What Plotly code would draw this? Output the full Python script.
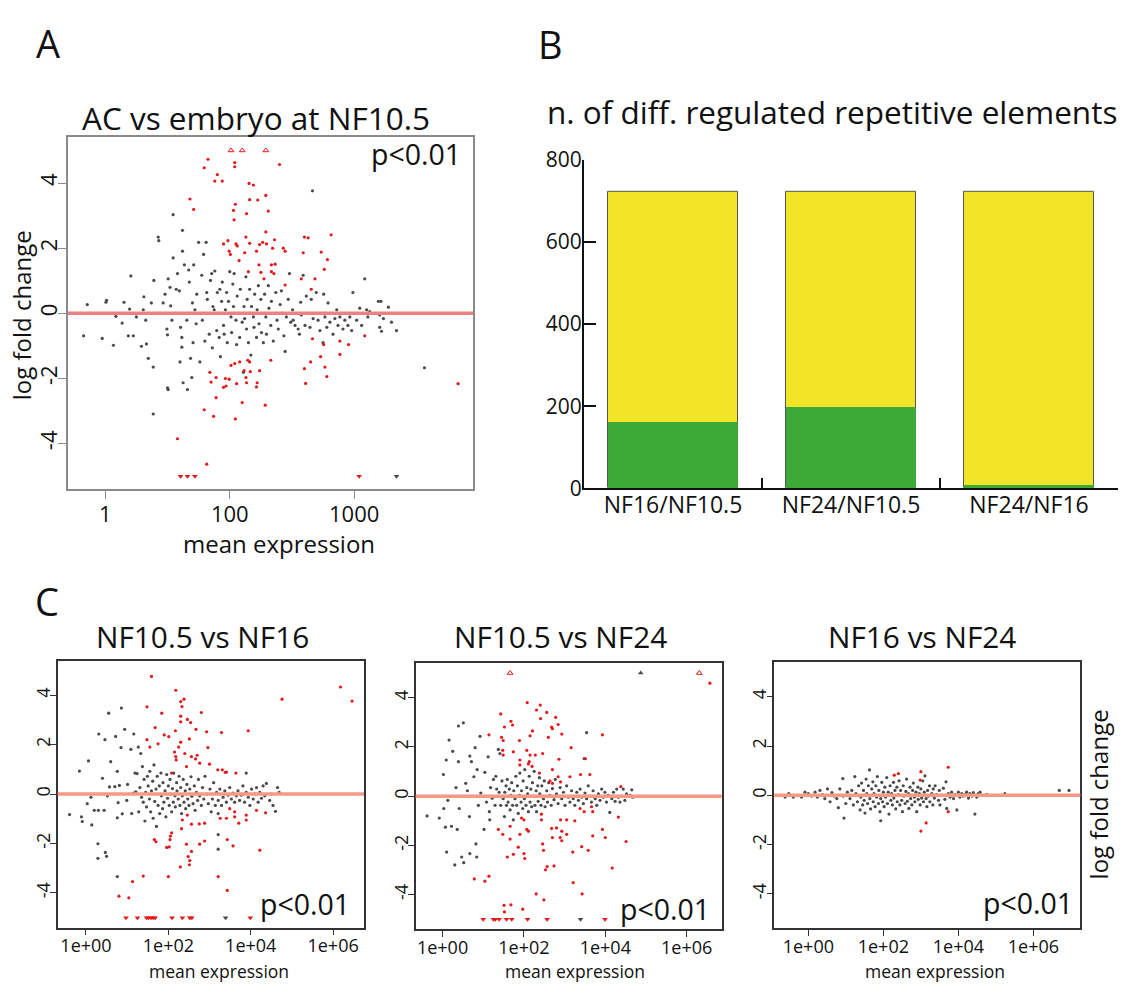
import plotly.graph_objects as go

W, H = 1123, 993
FONT = "Open Sans"

# ---------------- data ----------------
# MA-plot points: (log10 mean expression, log fold change)
a_grey = [(-0.35,-0.69),(-0.29,0.27),(-0.05,-0.77),(0.01,0.34),(0.02,0.40),(0.13,-0.98),(0.17,-0.09),(0.27,-0.30),(0.30,0.34),(0.37,-0.69),(0.39,0.13),(0.41,1.15),(0.45,-0.69),(0.50,-0.11),(0.58,-1.01),(0.61,0.11),(0.62,0.51),(0.65,-0.21),(0.66,-0.94),(0.69,-1.38),(0.74,0.32),(0.77,-1.65),(0.77,-3.09),(0.78,1.01),(0.85,2.34),(0.86,2.23),(0.93,0.32),(0.96,0.59),(0.99,-0.48),(1.00,-0.66),(1.01,1.06),(1.00,-2.29),(1.01,-2.34),(1.04,0.80),(1.05,0.23),(1.07,-0.21),(1.09,1.70),(1.09,3.03),(1.14,0.74),(1.16,1.22),(1.19,0.69),(1.20,-1.49),(1.21,-0.43),(1.23,-0.74),(1.24,2.55),(1.23,-1.04),(1.24,1.91),(1.25,0.0),(1.25,-2.13),(1.27,1.49),(1.31,-0.21),(1.32,-2.34),(1.34,1.33),(1.35,0.96),(1.37,-1.38),(1.39,-1.97),(1.40,0.32),(1.41,-0.90),(1.42,1.49),(1.44,0.11),(1.46,-0.32),(1.47,0.59),(1.50,2.18),(1.52,-1.49),(1.55,1.17),(1.56,-0.21),(1.58,1.81),(1.60,-0.85),(1.62,2.18),(1.63,0.64),(1.64,0.43),(1.67,-0.64),(1.69,1.01),(1.71,1.22),(1.72,-1.06),(1.73,0.21),(1.75,0.11),(1.76,1.30),(1.79,-0.53),(1.80,0.64),(1.82,0.0),(1.83,-0.74),(1.84,0.74),(1.85,-1.33),(1.87,0.37),(1.88,0.96),(1.90,-0.37),(1.91,-0.64),(1.93,0.11),(1.95,0.64),(1.96,-0.90),(1.98,0.37),(2.00,1.28),(2.02,-0.11),(2.03,-0.59),(2.05,0.90),(2.06,0.21),(2.07,1.22),(2.10,-0.21),(2.11,-0.96),(2.12,0.53),(2.15,0.0),(2.16,-0.74),(2.17,0.74),(2.20,-0.27),(2.22,-1.81),(2.23,0.21),(2.24,-0.16),(2.26,1.12),(2.27,-0.48),(2.28,0.43),(2.30,-0.90),(2.31,0.0),(2.32,0.74),(2.34,-1.28),(2.35,0.21),(2.38,-0.11),(2.39,-0.43),(2.40,0.59),(2.43,-0.74),(2.44,0.11),(2.46,0.85),(2.47,-0.32),(2.50,0.43),(2.51,-0.59),(2.54,-0.90),(2.55,0.0),(2.56,0.59),(2.58,-0.11),(2.59,-0.64),(2.62,0.85),(2.63,0.16),(2.66,-0.37),(2.67,0.37),(2.70,-0.85),(2.71,0.0),(2.74,0.64),(2.76,-0.21),(2.78,-0.48),(2.81,0.27),(2.83,0.69),(2.85,0.0),(2.87,-0.69),(2.89,-1.17),(2.91,-0.11),(2.94,0.43),(2.96,1.22),(2.98,-0.27),(3.01,0.11),(3.02,-0.21),(3.05,-0.37),(3.07,0.0),(3.10,-0.48),(3.12,-0.64),(3.14,0.34),(3.15,-0.05),(3.18,1.17),(3.21,-0.37),(3.23,0.53),(3.26,0.0),(3.29,-0.43),(3.31,0.43),(3.34,-0.16),(3.37,0.0),(3.39,0.64),(3.42,-0.21),(3.45,-0.53),(3.48,0.0),(3.50,-0.90),(3.51,0.59),(3.53,-0.11),(3.56,-0.43),(3.58,0.32),(3.61,-0.27),(3.64,0.0),(3.66,-0.64),(3.69,-0.16),(3.72,0.11),(3.74,-0.37),(3.77,-0.11),(3.80,0.0),(3.82,-0.48),(3.85,-0.21),(3.88,0.0),(3.90,-0.37),(3.93,-0.11),(3.96,-0.53),(3.98,0.64),(4.01,0.0),(4.04,-0.21),(4.09,0.16),(4.12,-0.37),(4.14,0.0),(4.17,1.06),(4.20,0.11),(4.22,-0.11),(4.25,0.05),(4.39,0.37),(4.41,-0.05),(4.43,0.37),(4.41,-0.43),(4.44,-0.55),(4.47,-0.16),(4.55,0.19),(4.60,-0.27),(4.68,-0.53),(3.33,3.76),(5.13,-1.67)]
a_red = [(1.65,4.73),(1.59,4.47),(2.08,4.63),(2.08,4.50),(2.80,4.57),(1.80,4.26),(1.76,4.06),(1.88,4.06),(2.31,3.99),(2.38,3.94),(1.36,3.51),(1.42,3.19),(2.32,3.49),(2.45,3.48),(2.58,3.62),(2.09,3.35),(2.06,3.16),(2.27,3.06),(2.62,3.14),(2.07,2.87),(2.58,2.50),(2.26,2.34),(3.20,2.34),(3.26,2.32),(3.63,2.41),(1.97,2.23),(1.90,2.13),(2.10,2.13),(2.12,2.07),(2.32,2.15),(2.48,2.11),(2.53,2.18),(2.72,2.26),(2.59,2.13),(2.01,1.81),(1.99,1.91),(2.24,1.86),(2.15,1.62),(2.43,1.91),(2.69,2.00),(2.86,2.00),(2.89,1.91),(3.18,1.86),(3.47,1.88),(3.57,1.65),(2.47,1.49),(2.67,1.49),(2.73,1.51),(2.30,1.28),(2.50,1.26),(2.67,1.28),(2.71,1.22),(2.55,1.06),(3.15,1.06),(3.52,1.35),(3.37,1.06),(2.89,0.87),(3.31,0.74),(3.33,-0.78),(3.51,-0.96),(4.17,-0.69),(3.77,-0.85),(3.91,-0.96),(3.77,-1.26),(3.46,-1.33),(3.30,-1.49),(3.20,-1.70),(3.53,-1.65),(3.56,-1.94),(3.22,-2.15),(2.02,-1.60),(2.08,-1.54),(2.16,-1.49),(2.29,-1.44),(2.32,-1.49),(2.23,-1.76),(2.33,-1.79),(2.48,-1.76),(2.66,-1.44),(1.68,-1.81),(1.70,-2.11),(1.78,-1.97),(1.93,-2.00),(1.99,-2.02),(1.94,-2.23),(1.90,-2.27),(2.11,-2.16),(2.26,-1.97),(2.27,-2.13),(2.44,-2.13),(2.43,-2.26),(1.78,-2.59),(2.20,-2.74),(2.57,-2.82),(1.59,-2.96),(1.74,-3.16),(2.09,-3.24),(1.16,-3.85),(1.63,-4.63),(5.67,-2.16)]
a_red_up = [2.02, 2.20, 2.58]          # log10 mean of points clipped at +5
a_red_down = [1.21, 1.32, 1.44, 4.08]  # clipped at -5
a_grey_down = [4.68]

c1_grey = [(-0.40,-0.83),(-0.11,-0.92),(-0.09,-1.11),(-0.16,0.93),(0.06,1.34),(0.03,-0.39),(0.12,-0.13),(0.20,-0.66),(0.30,-0.66),(0.14,-1.25),(0.29,-2.01),(0.29,-2.60),(0.31,2.43),(0.40,0.64),(0.44,-0.66),(0.46,2.20),(0.47,-2.36),(0.50,-2.52),(0.52,-0.07),(0.55,3.27),(0.57,0.29),(0.60,1.31),(0.70,0.30),(0.72,2.33),(0.76,0.92),(0.76,-3.34),(0.78,-0.35),(0.76,-0.96),(0.81,0.35),(0.85,1.88),(0.86,3.48),(0.88,-0.80),(0.94,2.62),(0.99,-0.26),(1.01,0.39),(1.09,1.81),(1.11,-0.79),(1.15,0.04),(1.16,2.43),(1.19,0.85),(1.21,0.09),(1.24,0.83),(1.27,1.90),(1.28,-0.72),(1.31,0.26),(1.33,1.64),(1.35,-0.13),(1.37,1.11),(1.39,-0.33),(1.41,0.59),(1.43,-1.09),(1.45,0.07),(1.47,-0.52),(1.49,0.72),(1.51,0.33),(1.54,-0.20),(1.55,0.92),(1.57,-0.72),(1.59,0.13),(1.62,0.52),(1.63,-0.98),(1.65,1.18),(1.67,-0.30),(1.70,0.20),(1.71,-1.31),(1.73,0.72),(1.75,-0.46),(1.78,0.33),(1.79,-0.79),(1.82,0.85),(1.83,-0.07),(1.86,-0.59),(1.87,0.46),(1.89,-0.33),(1.92,0.13),(1.94,-0.92),(1.96,0.79),(1.98,-0.17),(2.00,0.33),(2.02,-0.46),(2.04,0.59),(2.05,0.0),(2.08,-0.72),(2.10,0.22),(2.12,-0.33),(2.13,0.85),(2.16,-0.07),(2.17,-0.52),(2.20,0.46),(2.21,0.13),(2.24,-0.20),(2.26,0.72),(2.28,-0.46),(2.30,0.26),(2.32,-0.79),(2.34,-0.07),(2.36,0.59),(2.38,-0.33),(2.41,0.13),(2.42,-0.59),(2.45,0.39),(2.47,-0.20),(2.50,-0.46),(2.52,0.20),(2.55,0.70),(2.57,-0.09),(2.60,-0.39),(2.63,0.33),(2.65,-0.66),(2.68,0.07),(2.71,-0.26),(2.73,0.59),(2.76,-0.07),(2.80,-0.46),(2.83,0.26),(2.86,-0.20),(2.89,0.72),(2.93,0.0),(2.97,-0.39),(3.01,0.20),(3.04,-0.72),(3.07,-0.20),(3.10,0.46),(3.14,-0.46),(3.17,0.07),(3.21,-0.26),(3.25,0.20),(3.29,-0.46),(3.33,-0.13),(3.37,0.13),(3.41,-0.33),(3.45,-0.04),(3.49,0.26),(3.53,-0.20),(3.57,0.04),(3.61,-0.33),(3.65,-0.07),(3.69,0.13),(3.73,-0.26),(3.77,-0.04),(3.81,0.33),(3.85,-0.33),(3.89,0.07),(3.94,-0.13),(3.98,-0.46),(4.02,0.20),(4.06,-0.20),(4.10,0.0),(4.14,0.26),(4.18,-0.33),(4.22,0.07),(4.26,-0.17),(4.30,0.33),(4.34,-0.07),(4.38,0.43),(4.46,-0.26),(4.50,0.0),(4.54,-0.46),(4.60,-0.70),(4.65,0.26),(4.69,0.07),(3.89,0.85),(3.21,-0.79),(3.21,-1.64),(3.21,-2.23)]
c1_red = [(1.59,4.76),(2.18,4.20),(1.48,3.53),(2.30,3.74),(2.38,3.84),(2.33,3.54),(1.84,3.27),(2.80,3.30),(2.30,3.15),(2.46,3.02),(2.54,2.89),(2.30,2.92),(1.68,2.69),(2.17,2.56),(2.67,2.62),(2.93,2.52),(3.29,2.49),(3.94,2.56),(4.76,3.84),(6.18,4.33),(6.46,3.76),(1.90,2.39),(2.01,2.32),(1.48,2.20),(2.51,2.23),(2.30,2.10),(2.25,1.90),(1.75,2.03),(1.55,1.90),(2.15,1.70),(2.40,1.64),(2.18,1.51),(2.19,1.38),(2.56,1.51),(2.66,1.42),(2.96,1.88),(2.76,1.25),(3.00,1.21),(3.31,0.98),(3.41,0.89),(3.64,0.85),(2.44,1.11),(2.08,0.85),(2.70,1.57),(3.20,0.98),(3.38,0.88),(3.49,-0.59),(3.61,-0.72),(3.89,-1.05),(4.14,-0.66),(4.36,-0.76),(3.26,-0.98),(3.41,-0.98),(3.61,-0.92),(3.71,-1.18),(2.34,-1.05),(2.46,-0.85),(2.56,-1.22),(2.75,-1.21),(2.88,-1.18),(1.66,-1.84),(1.70,-1.93),(2.08,-1.57),(2.05,-1.70),(2.04,-1.84),(2.02,-2.14),(1.96,-2.16),(2.32,-1.40),(2.44,-2.03),(2.76,-2.03),(2.88,-1.90),(2.56,-2.32),(2.48,-2.53),(2.52,-2.69),(2.51,-2.86),(2.29,-2.95),(3.43,-1.84),(3.57,-2.10),(4.22,-2.27),(2.00,-3.34),(1.39,-3.32),(1.13,-3.54),(3.21,-3.34),(3.43,-3.90),(0.80,-4.13),(1.04,-4.20),(3.89,-0.85)]
c1_red_up = []
c1_red_down = [0.97, 1.25, 1.47, 1.52, 1.58, 1.63, 1.68, 2.09, 2.34, 2.52, 2.57, 3.99]
c1_grey_up = []
c1_grey_down = [3.39]

c2_grey = [(-0.38,-0.80),(-0.08,-0.89),(0.02,0.88),(0.03,-0.50),(0.07,-1.26),(0.09,1.47),(0.10,-2.27),(0.13,-0.17),(0.16,2.28),(0.22,-1.22),(0.25,1.82),(0.30,-2.79),(0.33,0.35),(0.36,-1.35),(0.39,1.40),(0.39,2.85),(0.41,-0.50),(0.47,-2.47),(0.51,2.98),(0.52,-2.70),(0.57,0.52),(0.61,0.22),(0.66,-0.83),(0.67,1.63),(0.67,-2.33),(0.71,1.40),(0.77,0.79),(0.80,1.97),(0.82,-1.94),(0.84,-2.47),(0.85,1.08),(0.88,-0.37),(0.92,2.43),(0.94,0.13),(1.02,-1.35),(1.04,0.97),(1.08,-0.24),(1.12,1.60),(1.15,-0.63),(1.16,-0.96),(1.18,0.35),(1.22,-0.08),(1.25,0.68),(1.29,-0.37),(1.31,0.81),(1.33,0.29),(1.37,1.90),(1.39,0.16),(1.41,1.73),(1.43,-0.37),(1.46,0.62),(1.49,-0.10),(1.52,-0.83),(1.53,0.16),(1.56,0.42),(1.57,-0.37),(1.59,0.68),(1.61,-0.24),(1.64,0.29),(1.66,-0.56),(1.68,0.03),(1.70,0.55),(1.72,-0.37),(1.74,-0.96),(1.75,0.22),(1.78,-0.10),(1.80,0.81),(1.82,-0.37),(1.84,0.42),(1.86,-0.70),(1.89,0.03),(1.90,0.94),(1.93,-0.24),(1.94,0.22),(1.97,-0.50),(1.98,0.62),(2.01,-0.10),(2.02,1.08),(2.05,-0.37),(2.07,0.35),(2.09,0.09),(2.11,-0.63),(2.13,0.81),(2.15,-0.24),(2.17,0.29),(2.19,-0.43),(2.21,0.55),(2.23,0.0),(2.25,1.01),(2.27,-0.37),(2.30,0.22),(2.31,-0.63),(2.34,0.42),(2.35,-0.21),(2.38,0.75),(2.39,0.09),(2.42,-0.37),(2.44,0.42),(2.48,-0.10),(2.50,0.62),(2.52,-0.43),(2.56,0.22),(2.58,-0.24),(2.61,0.55),(2.64,0.03),(2.67,-0.37),(2.70,0.31),(2.74,-0.14),(2.77,0.68),(2.80,0.09),(2.84,-0.30),(2.89,0.35),(2.93,-0.10),(2.97,0.16),(3.01,-0.37),(3.05,0.42),(3.09,-0.04),(3.13,-0.24),(3.17,0.22),(3.21,-0.10),(3.25,-0.37),(3.30,0.16),(3.34,-0.17),(3.38,0.29),(3.42,-0.04),(3.46,-0.30),(3.50,0.13),(3.54,-0.10),(3.58,0.42),(3.62,0.0),(3.66,-0.24),(3.70,0.22),(3.75,-0.10),(3.79,-0.37),(3.83,0.09),(3.87,-0.17),(3.91,0.29),(3.95,-0.04),(3.99,0.16),(4.03,-0.24),(4.07,0.03),(4.11,-0.66),(4.16,-0.10),(4.20,0.16),(4.24,-0.21),(4.28,0.29),(4.32,-0.04),(4.36,-0.24),(4.44,0.29),(4.48,-0.17),(4.52,0.09),(4.61,0.03),(4.65,0.26),(4.67,-0.04),(3.54,2.58),(3.48,1.53)]
c2_red = [(6.57,4.59),(2.08,3.80),(2.40,3.70),(2.31,3.50),(2.56,3.40),(1.43,3.34),(1.68,3.04),(1.72,2.89),(1.52,2.81),(2.41,3.15),(2.78,3.20),(2.68,2.81),(2.70,2.74),(2.21,2.65),(2.15,2.45),(1.89,2.26),(2.93,2.52),(2.84,2.91),(1.14,2.49),(1.45,2.39),(1.49,2.26),(2.60,2.39),(3.16,1.97),(3.93,2.49),(1.48,1.86),(1.49,1.67),(1.74,1.80),(2.07,1.86),(2.15,1.67),(2.28,1.67),(2.46,1.73),(1.90,1.47),(2.13,1.40),(2.11,1.31),(2.20,1.21),(1.90,1.27),(2.38,0.94),(2.86,1.50),(2.70,1.08),(2.84,0.79),(3.13,0.79),(2.64,0.62),(2.70,0.52),(2.90,0.58),(3.39,0.88),(3.62,0.88),(3.51,1.52),(4.38,0.39),(3.38,-0.50),(3.48,-0.63),(3.69,-0.63),(3.66,-0.43),(3.25,-1.00),(3.05,-0.96),(2.90,-0.96),(2.80,-1.29),(2.93,-1.42),(2.43,-0.73),(2.43,-0.96),(2.00,-0.96),(1.94,-0.89),(2.07,-1.35),(2.11,-1.42),(1.90,-1.55),(1.66,-1.22),(1.86,-2.07),(2.00,-2.33),(2.02,-2.53),(1.74,-2.36),(1.59,-2.47),(2.46,-1.94),(2.48,-2.20),(2.68,-1.31),(2.70,-1.68),(2.89,-1.68),(2.93,-1.81),(3.05,-1.55),(3.20,-2.27),(3.42,-2.05),(3.58,-2.20),(3.69,-1.61),(3.93,-1.35),(4.00,-1.68),(4.32,-0.85),(4.51,-1.84),(4.17,-2.92),(2.53,-2.99),(2.57,-2.86),(2.74,-2.83),(3.21,-3.51),(3.43,-3.97),(2.30,-3.97),(2.49,-4.21),(0.78,-3.36),(1.04,-3.45),(1.14,-3.25),(1.51,-4.43),(1.52,-4.70),(1.68,-4.41),(1.97,-4.59),(1.37,-1.35),(1.48,-1.55),(1.66,-1.74)]
c2_red_up = [1.66, 6.31]
c2_red_down = [1.00, 1.25, 1.30, 1.39, 1.57, 1.70, 2.09, 2.57, 3.99]
c2_grey_up = [4.87]
c2_grey_down = [3.39]

c3_grey = [(-0.62,-0.07),(-0.52,0.07),(-0.40,-0.07),(-0.29,0.0),(-0.18,-0.07),(-0.09,0.13),(0.0,0.07),(0.09,-0.03),(0.18,0.13),(0.24,-0.07),(0.31,0.20),(0.38,0.03),(0.44,-0.13),(0.51,0.26),(0.58,-0.26),(0.63,0.11),(0.69,-0.03),(0.76,-0.13),(0.80,-0.50),(0.84,0.26),(0.92,0.68),(0.93,-0.03),(0.95,-0.92),(1.00,-0.33),(1.04,0.13),(1.11,-0.13),(1.16,0.20),(1.20,-0.39),(1.24,0.76),(1.27,0.07),(1.31,-0.26),(1.34,0.39),(1.38,-0.59),(1.40,-0.07),(1.42,0.50),(1.45,-0.39),(1.47,0.20),(1.49,-0.20),(1.51,-0.72),(1.54,0.66),(1.56,0.07),(1.58,-0.33),(1.60,0.39),(1.63,1.03),(1.64,-0.13),(1.66,-0.55),(1.69,0.26),(1.72,0.55),(1.73,-0.26),(1.75,0.07),(1.78,-0.46),(1.80,0.39),(1.82,-0.07),(1.84,0.76),(1.87,-0.33),(1.88,0.20),(1.91,-0.66),(1.93,-1.03),(1.93,-0.13),(1.96,0.53),(1.98,-0.26),(2.00,0.13),(2.02,-0.46),(2.04,0.33),(2.06,-0.07),(2.09,0.72),(2.11,-0.33),(2.13,0.13),(2.15,-0.76),(2.18,0.39),(2.20,-0.20),(2.22,0.07),(2.24,-0.39),(2.27,0.53),(2.28,-0.11),(2.31,0.20),(2.33,-0.55),(2.36,0.33),(2.37,-0.26),(2.40,0.03),(2.42,0.59),(2.44,-0.39),(2.46,0.20),(2.49,-0.20),(2.51,-0.66),(2.53,0.39),(2.55,-0.03),(2.58,-0.33),(2.60,0.16),(2.62,0.66),(2.64,-0.24),(2.67,0.07),(2.68,-0.53),(2.71,0.33),(2.73,-0.13),(2.76,-0.39),(2.78,0.20),(2.80,0.50),(2.83,-0.07),(2.84,-0.26),(2.87,0.13),(2.89,-0.66),(2.92,0.33),(2.93,-0.16),(2.96,0.07),(2.98,-0.39),(3.00,0.26),(3.02,-0.11),(3.05,0.59),(3.07,-0.26),(3.09,0.13),(3.11,0.79),(3.14,-0.13),(3.16,-0.46),(3.18,0.20),(3.20,-0.03),(3.23,0.39),(3.24,-0.26),(3.29,0.07),(3.32,-0.39),(3.33,0.26),(3.36,-0.11),(3.38,0.39),(3.42,0.03),(3.47,-0.20),(3.49,0.20),(3.51,-0.39),(3.56,0.0),(3.60,0.29),(3.64,-0.16),(3.67,0.55),(3.69,-0.53),(3.73,0.07),(3.78,-0.07),(3.82,0.13),(3.87,-0.13),(3.91,0.03),(3.96,-0.59),(4.00,0.13),(4.04,-0.07),(4.09,0.07),(4.13,-0.03),(4.18,0.03),(4.22,0.13),(4.27,-0.11),(4.31,0.07),(4.36,-0.03),(4.40,0.11),(4.44,-0.76),(4.49,-0.07),(4.53,0.07),(4.58,0.13),(4.62,0.0),(4.76,0.03),(5.24,0.07),(6.69,0.20),(6.95,0.20)]
c3_red = [(2.40,0.88),(2.29,0.82),(3.00,0.96),(2.98,0.62),(3.73,1.14),(3.73,-0.66),(3.14,-1.12),(3.00,-1.45)]

bar_categories = ["NF16/NF10.5", "NF24/NF10.5", "NF24/NF16"]
bar_total = [723, 723, 723]
bar_green = [162, 198, 9]

a_xticks = [1, 100, 10000]
a_xticktext = ["1", "100", "1000"]
c_xticks = [1, 1e2, 1e4, 1e6]
c_xticktext = ["1e+00", "1e+02", "1e+04", "1e+06"]
y_ticks = [-4, -2, 0, 2, 4]
y_ticktext = ["-4", "-2", "0", "2", "4"]
b_yticks = [0, 200, 400, 600, 800]

GREY = "#4a4a4a"
RED = "#e3191b"


def px(x):
    return x / W


def py(y):
    return 1 - y / H


fig = go.Figure()


def add_ma(points_grey, points_red, red_up, red_down, grey_up, grey_down, xa, ya):
    gx = [10 ** p[0] for p in points_grey]
    gy = [p[1] for p in points_grey]
    rx = [10 ** p[0] for p in points_red]
    ry = [p[1] for p in points_red]
    fig.add_trace(go.Scatter(x=gx, y=gy, mode="markers", xaxis=xa, yaxis=ya,
                             marker=dict(color=GREY, size=3.2), showlegend=False))
    fig.add_trace(go.Scatter(x=rx, y=ry, mode="markers", xaxis=xa, yaxis=ya,
                             marker=dict(color=RED, size=3.2), showlegend=False))
    if red_up:
        fig.add_trace(go.Scatter(x=[10 ** v for v in red_up], y=[5] * len(red_up), mode="markers",
                                 xaxis=xa, yaxis=ya, showlegend=False,
                                 marker=dict(color=RED, size=5, symbol="triangle-up-open",
                                             line=dict(width=1))))
    if grey_up:
        fig.add_trace(go.Scatter(x=[10 ** v for v in grey_up], y=[5] * len(grey_up), mode="markers",
                                 xaxis=xa, yaxis=ya, showlegend=False,
                                 marker=dict(color=GREY, size=5, symbol="triangle-up")))
    if red_down:
        fig.add_trace(go.Scatter(x=[10 ** v for v in red_down], y=[-5] * len(red_down), mode="markers",
                                 xaxis=xa, yaxis=ya, showlegend=False,
                                 marker=dict(color=RED, size=5, symbol="triangle-down")))
    if grey_down:
        fig.add_trace(go.Scatter(x=[10 ** v for v in grey_down], y=[-5] * len(grey_down), mode="markers",
                                 xaxis=xa, yaxis=ya, showlegend=False,
                                 marker=dict(color=GREY, size=5, symbol="triangle-down")))


add_ma(a_grey, a_red, a_red_up, a_red_down, [], a_grey_down, "x", "y")
add_ma(c1_grey, c1_red, c1_red_up, c1_red_down, c1_grey_up, c1_grey_down, "x3", "y3")
add_ma(c2_grey, c2_red, c2_red_up, c2_red_down, c2_grey_up, c2_grey_down, "x4", "y4")
add_ma(c3_grey, c3_red, [], [], [], [], "x5", "y5")

# Panel B bars
fig.add_trace(go.Bar(x=bar_categories, y=bar_total, xaxis="x2", yaxis="y2", width=0.725,
                     marker=dict(color="#f2e527", line=dict(color="#555555", width=1)),
                     showlegend=False))
fig.add_trace(go.Bar(x=bar_categories, y=bar_green, xaxis="x2", yaxis="y2", width=0.725,
                     marker=dict(color="#3daa38", line=dict(width=0)), showlegend=False))


def ma_axes(xdom, ydom, xr, tv, tt, tfs, boxcol, ticklen, xstand, ystand):
    xa = dict(type="log", domain=xdom, range=xr, tickvals=tv, ticktext=tt, ticks="outside",
              ticklen=ticklen, tickcolor=boxcol, tickwidth=1.3, showline=True, linecolor=boxcol,
              linewidth=1.5, mirror=True, showgrid=False, zeroline=False, ticklabelstandoff=xstand,
              tickfont=dict(family=FONT, size=tfs, color="#111"))
    ya = dict(domain=ydom, range=[-5.4, 5.4], tickvals=y_ticks, ticktext=y_ticktext, ticks="outside",
              ticklen=ticklen, tickcolor=boxcol, tickwidth=1.3, showline=True, linecolor=boxcol,
              linewidth=1.5, mirror=True, showgrid=False, zeroline=False, tickangle=-90,
              ticklabelstandoff=ystand, tickfont=dict(family=FONT, size=tfs, color="#111"))
    return xa, ya


xa1, ya1 = ma_axes([px(68), px(473)], [py(488), py(126)], [-0.60, 5.91], a_xticks, a_xticktext, 22, "#8a8a8a", 8, -3, -8)
xa3, ya3 = ma_axes([px(57.7), px(364)], [py(939), py(664.3)], [-0.687, 6.75], c_xticks, c_xticktext, 18, "#333333", 6, -5, -7)
xa4, ya4 = ma_axes([px(415.7), px(721.7)], [py(940.7), py(667)], [-0.66, 6.86], c_xticks, c_xticktext, 18, "#333333", 6, -5, -7)
xa5, ya5 = ma_axes([px(774.3), px(1080.3)], [py(940), py(666)], [-0.907, 7.25], c_xticks, c_xticktext, 18, "#333333", 6, -5, -7)
ya1["anchor"] = "x"; xa1["anchor"] = "y"
ya3["anchor"] = "x3"; xa3["anchor"] = "y3"
ya4["anchor"] = "x4"; xa4["anchor"] = "y4"
ya5["anchor"] = "x5"; xa5["anchor"] = "y5"

xa2 = dict(domain=[px(584), px(1118)], anchor="y2", type="category", range=[-0.5, 2.5],
           tickson="boundaries", ticks="inside", ticklen=10, tickwidth=2, tickcolor="#111",
           showline=True, linecolor="#111", linewidth=2, showgrid=False, zeroline=False,
           ticklabelstandoff=-5, tickfont=dict(family=FONT, size=23, color="#111"))
ya2 = dict(domain=[py(487), py(149)], anchor="x2", range=[0, 800], tickvals=b_yticks,
           ticks="inside", ticklen=12, tickwidth=2, tickcolor="#111", showline=True,
           linecolor="#111", linewidth=2, showgrid=False, zeroline=False,
           ticklabelstandoff=-4, tickfont=dict(family=FONT, size=21, color="#111"))

shapes = []
for xr, yr, col in [("x", "y", "#f08080"), ("x3", "y3", "#f59a84"), ("x4", "y4", "#f59a84"), ("x5", "y5", "#f59a84")]:
    shapes.append(dict(type="line", xref=xr + " domain", yref=yr, x0=0, x1=1, y0=0, y1=0,
                       line=dict(color=col, width=3.5), layer="above"))


def ann(text, x, y, size, xanchor="center", yanchor="middle", angle=0):
    return dict(text=text, x=px(x), y=py(y), xref="paper", yref="paper", showarrow=False,
                xanchor=xanchor, yanchor=yanchor, textangle=angle,
                font=dict(family=FONT, size=size, color="#111"))


annotations = [
    ann("A", 47.5, 28.5, 38), ann("B", 550, 30, 38), ann("C", 47, 602.5, 38),
    ann("AC vs embryo at NF10.5", 256, 105, 31.5),
    ann("n. of diff. regulated repetitive elements", 832, 99, 31.5),
    ann("NF10.5 vs NF16", 202, 639.5, 29.8),
    ann("NF10.5 vs NF24", 560, 639.5, 29.8),
    ann("NF16 vs NF24", 922, 639.5, 29.8),
    ann("p<0.01", 463, 143, 28.5, xanchor="right"),
    ann("p<0.01", 352, 915, 28.5, xanchor="right"),
    ann("p<0.01", 712, 920, 28.5, xanchor="right"),
    ann("p<0.01", 1075, 914, 28.5, xanchor="right"),
    ann("mean expression", 279, 544, 24),
    ann("mean expression", 219, 984, 17.5),
    ann("mean expression", 575, 984, 17.5),
    ann("mean expression", 935, 984, 17.5),
    ann("log fold change", 21, 309, 24, angle=-90),
    ann("log fold change", 1098, 802, 24, angle=-90),
]

fig.update_layout(
    width=W, height=H, margin=dict(l=0, r=0, t=0, b=0),
    paper_bgcolor="white", plot_bgcolor="white", barmode="overlay", bargap=0,
    xaxis=xa1, yaxis=ya1, xaxis2=xa2, yaxis2=ya2, xaxis3=xa3, yaxis3=ya3,
    xaxis4=xa4, yaxis4=ya4, xaxis5=xa5, yaxis5=ya5,
    shapes=shapes, annotations=annotations, font=dict(family=FONT),
)

fig.write_html("out.html", config={"displayModeBar": False},
               post_script="document.body.style.margin='0px';document.body.style.padding='0px';document.documentElement.style.overflow='hidden';")
